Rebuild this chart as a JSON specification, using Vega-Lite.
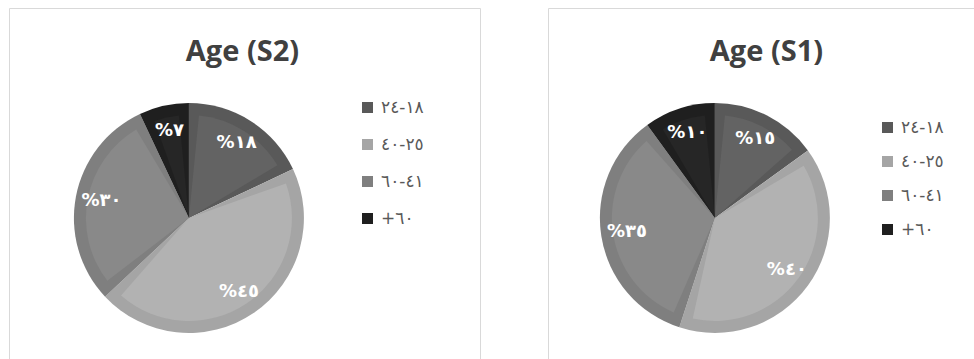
{
  "$schema": "https://vega.github.io/schema/vega-lite/v6.json",
  "background": "white",
  "padding": {"left": 8, "top": 7, "right": 0, "bottom": 0},
  "resolve": {"scale": {"color": "independent", "fill": "independent"}, "legend": {"color": "independent"}},
  "config": {
    "view": {"stroke": "#d9d9d9", "strokeWidth": 1},
    "concat": {"spacing": 66},
    "legend": {
      "orient": "none",
      "title": null,
      "symbolType": "square",
      "symbolSize": 121,
      "symbolStrokeWidth": 0,
      "labelFont": "DejaVu Sans",
      "labelFontSize": 17,
      "labelColor": "#595959",
      "labelOffset": 5
    },
    "title": {
      "font": "Open Sans",
      "fontSize": 29,
      "fontWeight": "bold",
      "color": "#404040",
      "anchor": "middle",
      "baseline": "alphabetic"
    }
  },
  "datasets": {
    "ages": [
      {"panel": "S2", "group": "١٨-٢٤", "order": 1, "value": 18, "label": "%١٨"},
      {"panel": "S2", "group": "٢٥-٤٠", "order": 2, "value": 45, "label": "%٤٥"},
      {"panel": "S2", "group": "٤١-٦٠", "order": 3, "value": 30, "label": "%٣٠"},
      {"panel": "S2", "group": "+٦٠", "order": 4, "value": 7, "label": "%٧"},
      {"panel": "S1", "group": "١٨-٢٤", "order": 1, "value": 15, "label": "%١٥"},
      {"panel": "S1", "group": "٢٥-٤٠", "order": 2, "value": 40, "label": "%٤٠"},
      {"panel": "S1", "group": "٤١-٦٠", "order": 3, "value": 35, "label": "%٣٥"},
      {"panel": "S1", "group": "+٦٠", "order": 4, "value": 10, "label": "%١٠"}
    ]
  },
  "hconcat": [
    {
      "width": 471,
      "height": 400,
      "data": {"name": "ages"},
      "transform": [{"filter": "datum.panel === 'S2'"}],
      "title": {"text": "Age (S2)", "offset": -59, "dx": -2},
      "encoding": {
        "theta": {"field": "value", "type": "quantitative", "stack": true},
        "order": {"field": "order", "type": "quantitative"},
        "x": {"field": "panel", "type": "nominal", "axis": null, "scale": {"type": "point", "align": 0.382}},
        "y": {"field": "panel", "type": "nominal", "axis": null, "scale": {"type": "point", "align": 0.525}}
      },
      "layer": [
        {
          "mark": {"type": "arc", "outerRadius": 115},
          "encoding": {
            "color": {
              "field": "group", "type": "nominal",
              "scale": {"domain": ["١٨-٢٤", "٢٥-٤٠", "٤١-٦٠", "+٦٠"], "range": ["#595959", "#a5a5a5", "#7f7f7f", "#1f1f1f"]},
              "legend": {"legendX": 350, "legendY": 91, "rowPadding": 19}
            }
          }
        },
        {
          "mark": {"type": "arc", "outerRadius": 103, "padAngle": 0.195},
          "encoding": {
            "fill": {
              "field": "group", "type": "nominal",
              "scale": {"domain": ["١٨-٢٤", "٢٥-٤٠", "٤١-٦٠", "+٦٠"], "range": ["#636363", "#b2b2b2", "#898989", "#262626"]},
              "legend": null
            }
          }
        },
        {
          "mark": {"type": "text", "radius": 89, "font": "DejaVu Sans", "fontSize": 18, "fontWeight": "bold", "fill": "white"},
          "encoding": {"text": {"field": "label"}}
        }
      ]
    },
    {
      "width": 429,
      "height": 400,
      "data": {"name": "ages"},
      "transform": [{"filter": "datum.panel === 'S1'"}],
      "title": {"text": "Age (S1)", "offset": -59, "dx": 4},
      "encoding": {
        "theta": {"field": "value", "type": "quantitative", "stack": true},
        "order": {"field": "order", "type": "quantitative"},
        "x": {"field": "panel", "type": "nominal", "axis": null, "scale": {"type": "point", "align": 0.389}},
        "y": {"field": "panel", "type": "nominal", "axis": null, "scale": {"type": "point", "align": 0.525}}
      },
      "layer": [
        {
          "mark": {"type": "arc", "outerRadius": 115},
          "encoding": {
            "color": {
              "field": "group", "type": "nominal",
              "scale": {"domain": ["١٨-٢٤", "٢٥-٤٠", "٤١-٦٠", "+٦٠"], "range": ["#595959", "#a5a5a5", "#7f7f7f", "#1f1f1f"]},
              "legend": {"legendX": 331, "legendY": 111, "rowPadding": 16}
            }
          }
        },
        {
          "mark": {"type": "arc", "outerRadius": 103, "padAngle": 0.195},
          "encoding": {
            "fill": {
              "field": "group", "type": "nominal",
              "scale": {"domain": ["١٨-٢٤", "٢٥-٤٠", "٤١-٦٠", "+٦٠"], "range": ["#636363", "#b2b2b2", "#898989", "#262626"]},
              "legend": null
            }
          }
        },
        {
          "mark": {"type": "text", "radius": 89, "font": "DejaVu Sans", "fontSize": 18, "fontWeight": "bold", "fill": "white"},
          "encoding": {"text": {"field": "label"}}
        }
      ]
    }
  ]
}
